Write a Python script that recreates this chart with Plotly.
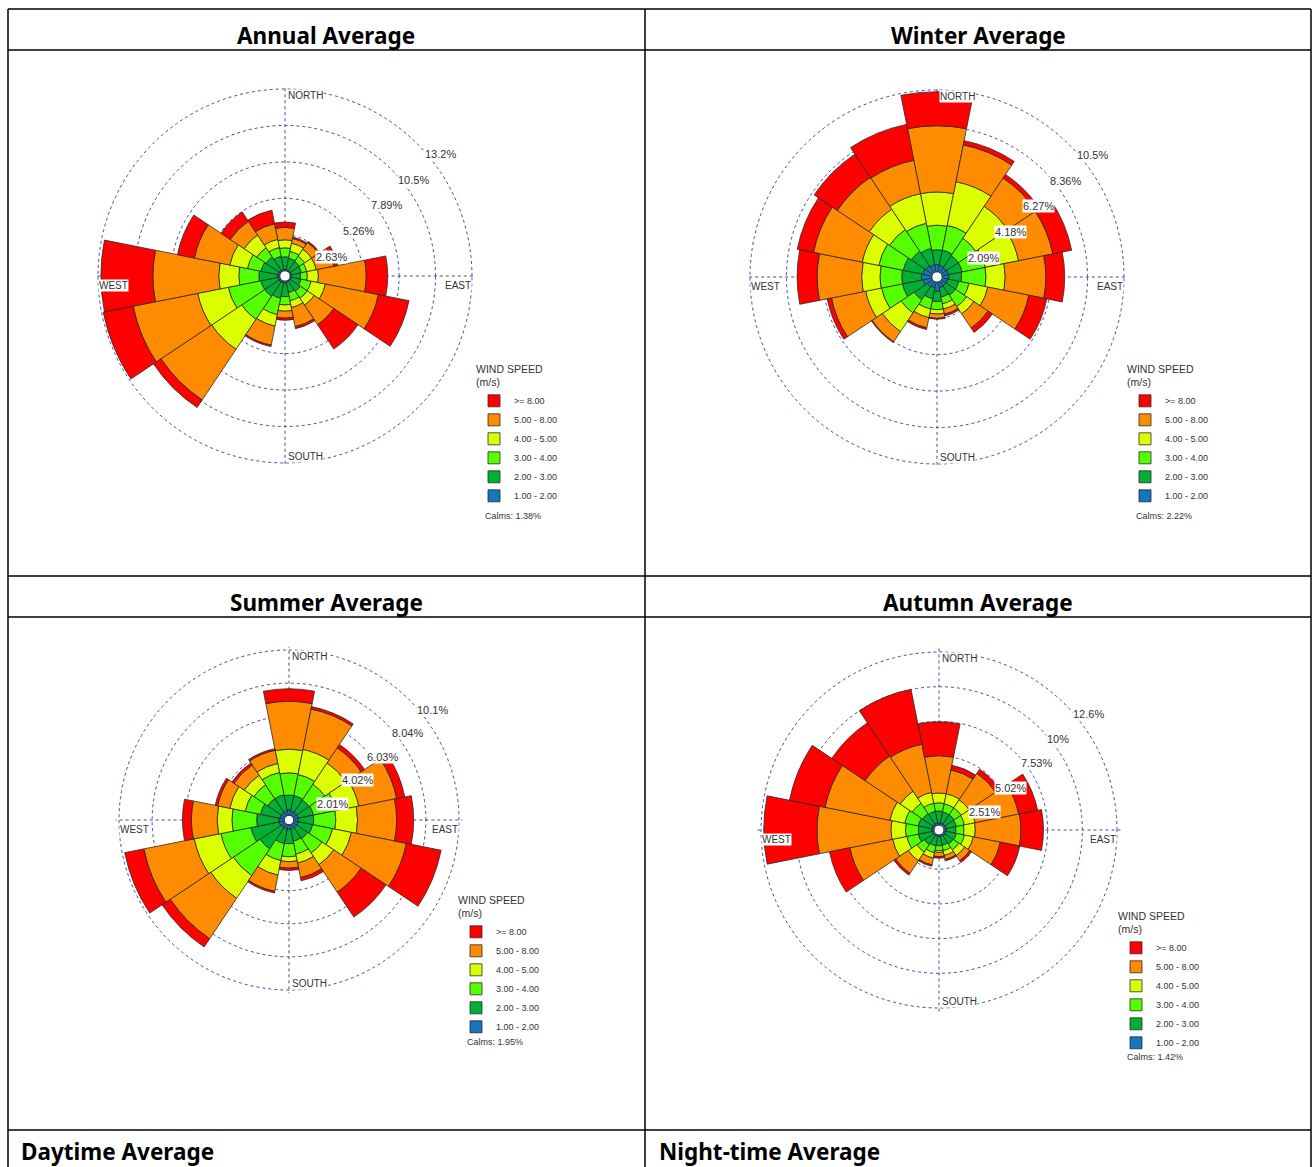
import plotly.graph_objects as go

W, H = 1314, 1167

# ---------------- data ----------------
DIRECTIONS = ["N", "NNE", "NE", "ENE", "E", "ESE", "SE", "SSE",
              "S", "SSW", "SW", "WSW", "W", "WNW", "NW", "NNW"]
THETA = [0, 22.5, 45, 67.5, 90, 112.5, 135, 157.5,
         180, 202.5, 225, 247.5, 270, 292.5, 315, 337.5]
SPEED_BINS = ["1.00 - 2.00", "2.00 - 3.00", "3.00 - 4.00",
              "4.00 - 5.00", "5.00 - 8.00", ">= 8.00"]
BIN_COLORS = ["#1476bb", "#00b034", "#55ff00", "#dcff00", "#ff8c00", "#ff0000"]

# Annual average (% frequency per direction and speed class)
ANNUAL_1_2 = [0.14, 0.12, 0.12, 0.11, 0.12, 0.13, 0.14, 0.13, 0.15, 0.15, 0.17, 0.18, 0.19, 0.17, 0.16, 0.15]
ANNUAL_2_3 = [0.90, 0.85, 0.80, 0.75, 0.65, 0.70, 0.85, 0.75, 1.00, 1.15, 1.25, 1.25, 1.35, 1.25, 1.15, 0.95]
ANNUAL_3_4 = [0.65, 0.50, 0.45, 0.40, 0.50, 0.75, 0.60, 0.60, 0.60, 1.20, 2.00, 2.40, 1.45, 1.00, 0.80, 0.65]
ANNUAL_4_5 = [0.58, 0.60, 0.60, 0.70, 0.80, 1.05, 0.60, 0.50, 0.45, 0.85, 2.60, 2.25, 1.45, 1.30, 1.10, 0.60]
ANNUAL_5_8 = [0.90, 0.35, 0.60, 1.30, 3.45, 3.90, 1.70, 1.40, 0.50, 1.40, 4.40, 4.75, 4.75, 2.60, 1.20, 1.15]
ANNUAL_GE8 = [0.38, 0.10, 0.10, 0.30, 1.55, 2.25, 2.10, 0.15, 0.15, 0.10, 0.65, 2.20, 3.75, 1.25, 0.80, 1.00]

# Winter average
WINTER_1_2 = [0.45, 0.40, 0.40, 0.40, 0.40, 0.35, 0.35, 0.35, 0.55, 0.35, 0.40, 0.55, 0.63, 0.55, 0.50, 0.45]
WINTER_2_3 = [0.84, 0.90, 0.80, 0.80, 0.74, 0.65, 0.65, 0.55, 0.59, 0.65, 0.90, 1.20, 1.12, 1.15, 1.00, 0.95]
WINTER_3_4 = [1.41, 1.45, 1.20, 1.35, 1.40, 0.60, 0.77, 0.40, 0.46, 0.60, 0.90, 1.22, 1.25, 1.43, 1.50, 1.47]
WINTER_4_5 = [1.90, 2.55, 2.20, 1.95, 1.10, 1.10, 0.50, 0.30, 0.25, 0.50, 1.30, 0.93, 1.05, 0.97, 1.40, 1.73]
WINTER_5_8 = [3.80, 2.15, 1.95, 2.00, 2.33, 2.40, 0.98, 0.30, 0.25, 0.60, 0.70, 2.00, 2.55, 2.85, 2.20, 1.95]
WINTER_GE8 = [1.95, 0.25, 0.25, 1.10, 1.08, 1.05, 0.30, 0.10, 0.05, 0.10, 0.05, 0.25, 1.15, 0.95, 1.60, 2.10]

# Summer average
SUMMER_1_2 = [0.35, 0.30, 0.30, 0.30, 0.30, 0.30, 0.30, 0.30, 0.30, 0.30, 0.30, 0.35, 0.35, 0.30, 0.30, 0.30]
SUMMER_2_3 = [0.90, 0.95, 0.90, 0.95, 0.94, 0.90, 0.80, 0.75, 0.88, 0.90, 1.55, 1.75, 1.35, 1.20, 1.00, 1.00]
SUMMER_3_4 = [1.35, 1.30, 1.15, 1.41, 1.34, 1.23, 1.05, 0.80, 0.79, 1.05, 1.95, 1.85, 1.50, 0.95, 1.00, 1.38]
SUMMER_4_5 = [1.44, 1.55, 1.55, 1.39, 1.32, 1.17, 0.85, 0.55, 0.30, 0.90, 1.65, 1.65, 0.90, 0.95, 0.70, 0.56]
SUMMER_5_8 = [2.90, 2.50, 1.10, 2.35, 2.37, 3.40, 2.00, 0.90, 0.39, 1.00, 2.95, 3.12, 1.56, 0.75, 0.75, 0.81]
SUMMER_GE8 = [0.76, 0.15, 0.25, 0.50, 1.03, 2.15, 1.82, 0.20, 0.14, 0.10, 0.60, 1.18, 0.54, 0.15, 0.15, 0.10]

# Autumn average
AUTUMN_1_2 = [0.20, 0.20, 0.20, 0.20, 0.20, 0.20, 0.20, 0.15, 0.15, 0.15, 0.15, 0.20, 0.20, 0.20, 0.20, 0.20]
AUTUMN_2_3 = [0.85, 0.80, 0.80, 0.75, 0.70, 0.75, 0.70, 0.65, 0.67, 0.70, 0.80, 1.00, 0.97, 1.00, 0.90, 0.85]
AUTUMN_3_4 = [0.59, 0.60, 0.60, 0.60, 0.58, 0.60, 0.50, 0.40, 0.35, 0.50, 0.65, 0.85, 0.93, 1.00, 0.90, 0.60]
AUTUMN_4_5 = [0.71, 0.75, 0.70, 0.80, 0.82, 0.65, 0.50, 0.35, 0.13, 0.40, 0.75, 1.05, 1.05, 1.10, 1.05, 0.80]
AUTUMN_5_8 = [2.70, 1.75, 2.30, 3.20, 3.30, 2.00, 0.45, 0.30, 0.30, 0.50, 1.10, 3.15, 5.35, 4.78, 3.05, 3.55]
AUTUMN_GE8 = [2.45, 0.35, 0.35, 1.40, 1.63, 1.43, 0.15, 0.10, 0.11, 0.10, 0.15, 1.50, 3.85, 2.62, 2.90, 4.05]

ANNUAL_RINGS = [2.63, 5.26, 7.89, 10.52, 13.15]
WINTER_RINGS = [2.09, 4.18, 6.27, 8.36, 10.45]
SUMMER_RINGS = [2.01, 4.02, 6.03, 8.04, 10.05]
AUTUMN_RINGS = [2.51, 5.02, 7.53, 10.04, 12.55]

ANNUAL_RING_LABELS = ["2.63%", "5.26%", "7.89%", "10.5%", "13.2%"]
WINTER_RING_LABELS = ["2.09%", "4.18%", "6.27%", "8.36%", "10.5%"]
SUMMER_RING_LABELS = ["2.01%", "4.02%", "6.03%", "8.04%", "10.1%"]
AUTUMN_RING_LABELS = ["2.51%", "5.02%", "7.53%", "10%", "12.6%"]

CALMS = ["1.38%", "2.22%", "1.95%", "1.42%"]
PANEL_TITLES = ["Annual Average", "Winter Average", "Summer Average", "Autumn Average"]
BOTTOM_TITLES = ["Daytime Average", "Night-time Average"]

# ---------------- layout (pixels) ----------------
HOLE = 0.025
EXT = 1.02          # radial range extends slightly past the outermost ring
GRID = "#4747a8"
TXT = "#333333"
LBL_FONT = "Liberation Sans, Arial, sans-serif"

panels = [
    dict(data=[ANNUAL_1_2, ANNUAL_2_3, ANNUAL_3_4, ANNUAL_4_5, ANNUAL_5_8, ANNUAL_GE8],
         rings=ANNUAL_RINGS, labels=ANNUAL_RING_LABELS, cx=285, cy=276, R=187,
         leg=(474, 359), calm=(483, 516)),
    dict(data=[WINTER_1_2, WINTER_2_3, WINTER_3_4, WINTER_4_5, WINTER_5_8, WINTER_GE8],
         rings=WINTER_RINGS, labels=WINTER_RING_LABELS, cx=937, cy=277, R=187,
         leg=(1125, 359), calm=(1134, 516)),
    dict(data=[SUMMER_1_2, SUMMER_2_3, SUMMER_3_4, SUMMER_4_5, SUMMER_5_8, SUMMER_GE8],
         rings=SUMMER_RINGS, labels=SUMMER_RING_LABELS, cx=289, cy=820, R=170,
         leg=(456, 890), calm=(465, 1042)),
    dict(data=[AUTUMN_1_2, AUTUMN_2_3, AUTUMN_3_4, AUTUMN_4_5, AUTUMN_5_8, AUTUMN_GE8],
         rings=AUTUMN_RINGS, labels=AUTUMN_RING_LABELS, cx=939, cy=830, R=178,
         leg=(1116, 906), calm=(1125, 1057)),
]


def px(x):
    return x / W


def py(y):
    return 1 - y / H


fig = go.Figure()
annotations = []
layout_extra = {}

for i, p in enumerate(panels):
    sub = "polar" if i == 0 else f"polar{i + 1}"
    leg = "legend" if i == 0 else f"legend{i + 1}"
    for b in range(6):
        fig.add_trace(go.Barpolar(
            r=p["data"][b], theta=THETA, width=22.5,
            name=SPEED_BINS[b],
            marker=dict(color=BIN_COLORS[b], line=dict(color="#2a2a2a", width=0.8)),
            subplot=sub, legend=leg, hoverinfo="skip",
        ))
    cx, cy, R = p["cx"], p["cy"], p["R"]
    rmax = p["rings"][-1]
    top = rmax * EXT
    Rd = R / (HOLE + (1 - HOLE) / EXT)   # domain radius so that the last ring sits at R
    layout_extra[sub] = dict(
        domain=dict(x=[px(cx - Rd), px(cx + Rd)], y=[py(cy + Rd), py(cy - Rd)]),
        hole=HOLE,
        bgcolor="rgba(0,0,0,0)",
        radialaxis=dict(range=[0, top], tickvals=p["rings"], showticklabels=False,
                        ticks="", showline=False, showgrid=True, gridcolor=GRID,
                        griddash="dot", gridwidth=1),
        angularaxis=dict(direction="clockwise", rotation=90, tickvals=[0, 90, 180, 270],
                         showticklabels=False, ticks="", showline=False, showgrid=True,
                         gridcolor=GRID, griddash="dot", gridwidth=1),
    )
    layout_extra[leg] = dict(
        x=px(p["leg"][0]), y=py(p["leg"][1]), xanchor="left", yanchor="top",
        title=dict(text="WIND SPEED<br>(m/s)", font=dict(size=10.5, family=LBL_FONT, color=TXT)),
        font=dict(size=9, family=LBL_FONT, color=TXT),
        traceorder="reversed", bgcolor="rgba(0,0,0,0)", itemclick=False,
        itemdoubleclick=False,
    )
    # ring labels (top-left anchored near the ring's 45 degree point)
    for k, (val, lab) in enumerate(zip(p["rings"], p["labels"])):
        rp = Rd * (HOLE + (1 - HOLE) * val / top)
        x0 = cx + rp * 0.7071 + 1 + k * 1.5
        y0 = cy - rp * 0.7071 + 3
        annotations.append(dict(x=px(x0), y=py(y0), xref="paper", yref="paper",
                                text=lab, showarrow=False, xanchor="left", yanchor="top",
                                bgcolor="white", borderpad=0,
                                font=dict(size=11, family=LBL_FONT, color=TXT)))
    # compass labels
    comp = [("NORTH", cx + 2, cy - R, "left", "top"),
            ("EAST", cx + R, cy + 3, "right", "top"),
            ("SOUTH", cx + 2, cy + R, "left", "bottom"),
            ("WEST", cx - R, cy + 3, "left", "top")]
    for t, x0, y0, xa, ya in comp:
        annotations.append(dict(x=px(x0), y=py(y0), xref="paper", yref="paper",
                                text=t, showarrow=False, xanchor=xa, yanchor=ya,
                                bgcolor="white", borderpad=0,
                                font=dict(size=10, family=LBL_FONT, color=TXT)))
    annotations.append(dict(x=px(p["calm"][0]), y=py(p["calm"][1]), xref="paper", yref="paper",
                            text="Calms: " + CALMS[i], showarrow=False,
                            xanchor="left", yanchor="middle",
                            font=dict(size=9, family=LBL_FONT, color=TXT)))

# panel headers
HEAD_FONT = dict(family="Noto Sans, Open Sans, sans-serif", size=22.5, color="black")
heads = [(PANEL_TITLES[0], 326, 35, "center"), (PANEL_TITLES[1], 978, 35, "center"),
         (PANEL_TITLES[2], 326, 602, "center"), (PANEL_TITLES[3], 978, 602, "center"),
         (BOTTOM_TITLES[0], 19, 1151, "left"), (BOTTOM_TITLES[1], 657, 1151, "left")]
for t, x0, y0, xa in heads:
    annotations.append(dict(x=px(x0), y=py(y0), xref="paper", yref="paper",
                            text="<b>" + t + "</b>", showarrow=False, xanchor=xa,
                            yanchor="middle", font=HEAD_FONT))

# table borders
shapes = []
for yy in [9, 50, 576, 617, 1130]:
    shapes.append(dict(type="line", xref="paper", yref="paper", x0=px(8), x1=px(1311),
                       y0=py(yy), y1=py(yy), line=dict(color="black", width=1.5)))
for xx in [8, 645, 1311]:
    shapes.append(dict(type="line", xref="paper", yref="paper", x0=px(xx), x1=px(xx),
                       y0=py(9), y1=py(1170), line=dict(color="black", width=1.5)))

fig.update_layout(
    width=W, height=H, margin=dict(l=0, r=0, t=0, b=0),
    paper_bgcolor="white", plot_bgcolor="white",
    showlegend=True, annotations=annotations, shapes=shapes,
    **layout_extra,
)

fig.write_html("out.html", config={"displayModeBar": False},
               post_script="document.body.style.margin='0px';document.body.style.overflow='hidden';")
